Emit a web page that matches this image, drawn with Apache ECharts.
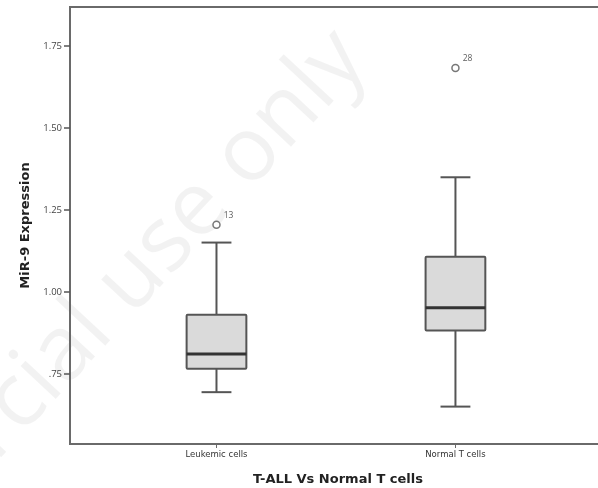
<!DOCTYPE html>
<html>
<head>
<meta charset="utf-8">
<script src="https://cdn.jsdelivr.net/npm/echarts@6/dist/echarts.min.js"></script>
<style>html,body{margin:0;padding:0;background:#fff;}#c{width:598px;height:488px;}</style>
</head>
<body>
<div id="c"></div>
<script>
// Data
var categories = ['Leukemic cells', 'Normal T cells'];
// [min, Q1, median, Q3, max]
var boxStats = [
  [0.695, 0.766, 0.811, 0.931, 1.151],
  [0.651, 0.883, 0.952, 1.108, 1.350]
];
var outlierCats = [0, 1];
var outlierValues = [1.205, 1.683];
var outlierLabels = ['13', '28'];
var yTicks = [0.75, 1.00, 1.25, 1.50, 1.75];

var chart = echarts.init(document.getElementById('c'));
var FONT = '"Open Sans", "DejaVu Sans", sans-serif';
var TFONT = '"DejaVu Sans", sans-serif';

var boxData = boxStats.map(function (s, i) { return [i].concat(s); });
var outData = outlierValues.map(function (v, i) { return [outlierCats[i], v, outlierLabels[i]]; });

chart.setOption({
  animation: false,
  backgroundColor: '#fff',
  grid: { left: 70, right: -8, top: 7, bottom: 44, outerBoundsMode: 'none', containLabel: false, show: true, borderColor: '#6a6a6a', borderWidth: 2, backgroundColor: 'transparent' },
  graphic: [{
    type: 'text',
    silent: true,
    z: -10,
    x: 318, y: 14,
    rotation: 47 * Math.PI / 180,
    style: {
      text: 'Not for commercial use only',
      font: '90px "Open Sans", sans-serif',
      fill: 'rgba(0,0,0,0.05)',
      align: 'right',
      verticalAlign: 'top'
    }
  }],
  xAxis: {
    type: 'value',
    min: -0.613, max: 1.630,
    splitLine: { show: false },
    axisLine: { show: true, onZero: false, lineStyle: { color: '#6a6a6a', width: 2 } },
    axisTick: { show: true, customValues: [0, 1], length: 4, lineStyle: { color: '#6a6a6a', width: 1 } },
    axisLabel: {
      customValues: [0, 1], margin: 6,
      formatter: function (v) { return categories[Math.round(v)] || ''; },
      fontFamily: TFONT, fontSize: 8.5, color: '#333'
    },
    name: 'T-ALL Vs Normal T cells',
    nameLocation: 'middle',
    nameGap: 29,
    nameTextStyle: { fontFamily: TFONT, fontSize: 13, fontWeight: 'bold', color: '#222' }
  },
  yAxis: {
    type: 'value',
    min: 0.537, max: 1.869,
    splitLine: { show: false },
    axisLine: { show: true, onZero: false, lineStyle: { color: '#6a6a6a', width: 2 } },
    axisTick: { show: true, customValues: yTicks, length: 6, lineStyle: { color: '#555', width: 1.5 } },
    axisLabel: {
      customValues: yTicks, margin: 8,
      formatter: function (v) { return v < 1 ? '.' + v.toFixed(2).split('.')[1] : v.toFixed(2); },
      fontFamily: FONT, fontSize: 9.5, color: '#444'
    },
    name: 'MiR-9 Expression',
    nameLocation: 'middle',
    nameGap: 38,
    nameTextStyle: { fontFamily: TFONT, fontSize: 13, fontWeight: 'bold', color: '#222' }
  },
  series: [{
    type: 'custom',
    data: boxData,
    encode: { x: 0, y: [1, 2, 3, 4, 5] },
    renderItem: function (params, api) {
      var x = api.value(0);
      var pMin = api.coord([x, api.value(1)]);
      var pQ1 = api.coord([x, api.value(2)]);
      var pMed = api.coord([x, api.value(3)]);
      var pQ3 = api.coord([x, api.value(4)]);
      var pMax = api.coord([x, api.value(5)]);
      var unit = api.size([1, 0])[0];
      var bw = unit * 0.25;
      var cw = bw / 2;
      var cx = pMin[0];
      var stroke = { stroke: '#555', lineWidth: 2 };
      return {
        type: 'group',
        children: [
          { type: 'line', shape: { x1: cx, y1: pMax[1], x2: cx, y2: pQ3[1] }, style: stroke },
          { type: 'line', shape: { x1: cx, y1: pQ1[1], x2: cx, y2: pMin[1] }, style: stroke },
          { type: 'line', shape: { x1: cx - cw / 2, y1: pMax[1], x2: cx + cw / 2, y2: pMax[1] }, style: stroke },
          { type: 'line', shape: { x1: cx - cw / 2, y1: pMin[1], x2: cx + cw / 2, y2: pMin[1] }, style: stroke },
          { type: 'rect', shape: { x: cx - bw / 2, y: pQ3[1], width: bw, height: pQ1[1] - pQ3[1], r: 1 }, style: { fill: '#dadada', stroke: '#555', lineWidth: 2 } },
          { type: 'line', shape: { x1: cx - bw / 2, y1: pMed[1], x2: cx + bw / 2, y2: pMed[1] }, style: { stroke: '#333', lineWidth: 3 } }
        ]
      };
    }
  }, {
    type: 'scatter',
    data: outData,
    symbol: 'circle',
    symbolSize: 7,
    itemStyle: { color: '#fff', borderColor: '#555', borderWidth: 1.5 },
    label: {
      show: true,
      formatter: function (p) { return p.data[2]; },
      position: 'right',
      offset: [-2, -9],
      fontFamily: FONT, fontSize: 8.5, color: '#333'
    }
  }]
});
</script>
</body>
</html>
